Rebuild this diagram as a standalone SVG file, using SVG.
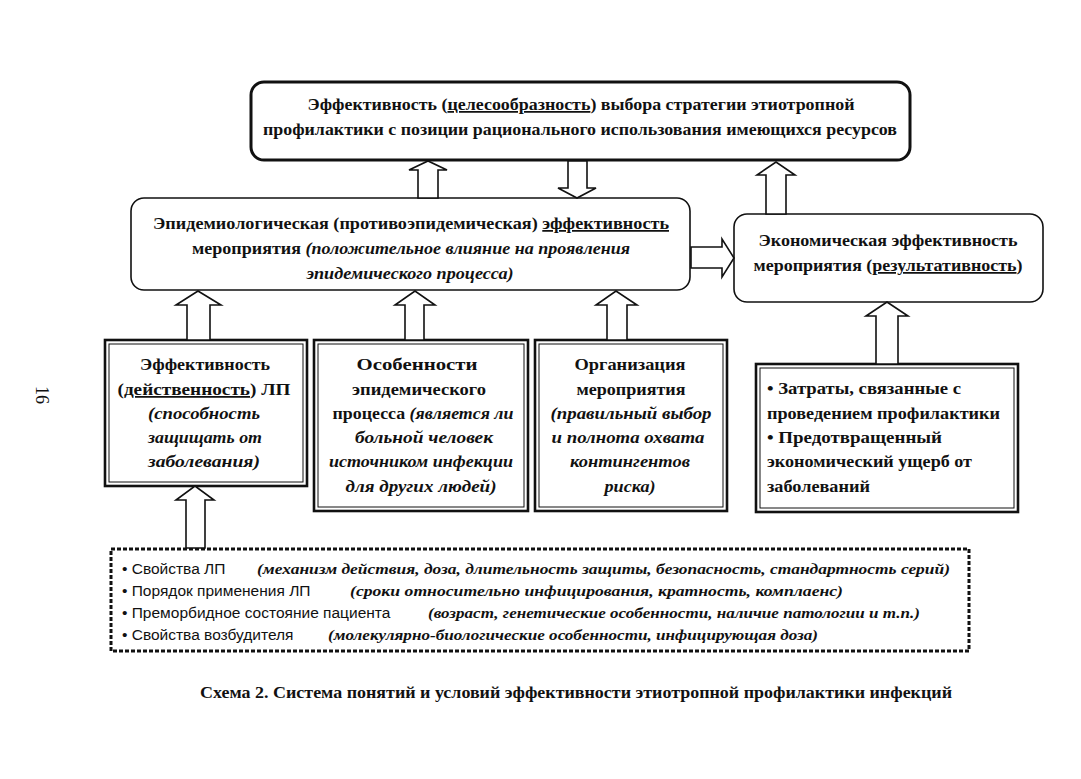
<svg xmlns="http://www.w3.org/2000/svg" width="1081" height="779" viewBox="0 0 1081 779">
<style>
.b{font-family:"Liberation Serif","Times New Roman",serif;font-weight:bold;font-size:17.5px;fill:#111}
.i{font-style:italic}
.u{text-decoration:underline}
.s{font-family:"Liberation Sans",Arial,sans-serif;font-size:15.5px;fill:#111}
.si{font-family:"Liberation Serif","Times New Roman",serif;font-weight:bold;font-style:italic;font-size:14.5px;fill:#111}
.arr{fill:#fff;stroke:#111;stroke-width:1.6;stroke-linejoin:miter}
.rb{fill:#fff;stroke:#111}
.dbo{fill:#fff;stroke:#111;stroke-width:2.6}
.dbi{fill:none;stroke:#111;stroke-width:1}
</style>
<rect width="1081" height="779" fill="#fff"/>
<text class="b" transform="translate(36,395) rotate(90)" text-anchor="middle" style="font-weight:normal;font-size:18px">16</text>

<g id="top">
<rect class="rb" x="251" y="82" width="659" height="78" rx="13" stroke-width="3"/>
<text class="b" x="581" y="110" text-anchor="middle" textLength="547" lengthAdjust="spacingAndGlyphs">Эффективность (<tspan class="u">целесообразность</tspan>) выбора стратегии этиотропной</text>
<text class="b" x="580" y="135" text-anchor="middle" textLength="634" lengthAdjust="spacingAndGlyphs">профилактики с позиции рационального использования имеющихся ресурсов</text>
</g>

<g id="epid">
<rect class="rb" x="131" y="198" width="559" height="92" rx="13" stroke-width="1.6"/>
<text class="b" x="411" y="229" text-anchor="middle" textLength="516" lengthAdjust="spacingAndGlyphs">Эпидемиологическая (противоэпидемическая) <tspan class="u">эффективность</tspan></text>
<text class="b" x="411" y="254" text-anchor="middle" textLength="438" lengthAdjust="spacingAndGlyphs">мероприятия <tspan class="i">(положительное влияние на проявления</tspan></text>
<text class="b i" x="410" y="279" text-anchor="middle" textLength="207" lengthAdjust="spacingAndGlyphs">эпидемического процесса)</text>
</g>

<g id="econ">
<rect class="rb" x="734" y="214" width="309" height="88" rx="13" stroke-width="1.6"/>
<text class="b" x="888" y="246" text-anchor="middle" textLength="259" lengthAdjust="spacingAndGlyphs">Экономическая эффективность</text>
<text class="b" x="888" y="271" text-anchor="middle" textLength="269" lengthAdjust="spacingAndGlyphs">мероприятия (<tspan class="u">результативность</tspan>)</text>
</g>

<g id="box1">
<rect class="dbo" x="105" y="340" width="202" height="146"/>
<rect class="dbi" x="109" y="344" width="194" height="138"/>
<g text-anchor="middle">
<text class="b" x="205" y="370" textLength="130" lengthAdjust="spacingAndGlyphs">Эффективность</text>
<text class="b" x="204" y="395" textLength="173" lengthAdjust="spacingAndGlyphs">(<tspan class="u">действенность</tspan>) ЛП</text>
<text class="b i" x="204" y="419" textLength="112" lengthAdjust="spacingAndGlyphs">(способность</text>
<text class="b i" x="205" y="443" textLength="114" lengthAdjust="spacingAndGlyphs">защищать от</text>
<text class="b i" x="204" y="467" textLength="112" lengthAdjust="spacingAndGlyphs">заболевания)</text>
</g>
</g>

<g id="box2">
<rect class="dbo" x="314" y="340" width="214" height="171"/>
<rect class="dbi" x="318" y="344" width="206" height="163"/>
<g text-anchor="middle">
<text class="b" x="417" y="370" textLength="121" lengthAdjust="spacingAndGlyphs">Особенности</text>
<text class="b" x="419" y="395" textLength="134" lengthAdjust="spacingAndGlyphs">эпидемического</text>
<text class="b" x="423" y="419" textLength="181" lengthAdjust="spacingAndGlyphs">процесса <tspan class="i">(является ли</tspan></text>
<text class="b i" x="424" y="443" textLength="138" lengthAdjust="spacingAndGlyphs">больной человек</text>
<text class="b i" x="421" y="467" textLength="184" lengthAdjust="spacingAndGlyphs">источником инфекции</text>
<text class="b i" x="421" y="492" textLength="151" lengthAdjust="spacingAndGlyphs">для других людей)</text>
</g>
</g>

<g id="box3">
<rect class="dbo" x="535" y="340" width="192" height="171"/>
<rect class="dbi" x="539" y="344" width="184" height="163"/>
<g text-anchor="middle">
<text class="b" x="630" y="370" textLength="111" lengthAdjust="spacingAndGlyphs">Организация</text>
<text class="b" x="631" y="395" textLength="109" lengthAdjust="spacingAndGlyphs">мероприятия</text>
<text class="b i" x="631" y="419" textLength="161" lengthAdjust="spacingAndGlyphs">(правильный выбор</text>
<text class="b i" x="628" y="443" textLength="153" lengthAdjust="spacingAndGlyphs">и полнота охвата</text>
<text class="b i" x="630" y="467" textLength="120" lengthAdjust="spacingAndGlyphs">контингентов</text>
<text class="b i" x="630" y="492" textLength="51" lengthAdjust="spacingAndGlyphs">риска)</text>
</g>
</g>

<g id="box4">
<rect class="dbo" x="756" y="364" width="262" height="148"/>
<rect class="dbi" x="760" y="368" width="254" height="140"/>
<text class="b" x="767" y="394" textLength="194" lengthAdjust="spacingAndGlyphs">• Затраты, связанные с</text>
<text class="b" x="767" y="419" textLength="233" lengthAdjust="spacingAndGlyphs">проведением профилактики</text>
<text class="b" x="767" y="443" textLength="175" lengthAdjust="spacingAndGlyphs">• Предотвращенный</text>
<text class="b" x="767" y="467" textLength="205" lengthAdjust="spacingAndGlyphs">экономический ущерб от</text>
<text class="b" x="767" y="492" textLength="103" lengthAdjust="spacingAndGlyphs">заболеваний</text>
</g>

<g id="factors">
<rect x="111" y="549" width="858" height="102" fill="#fff" stroke="#111" stroke-width="3" stroke-dasharray="4 2"/>
<text class="s" x="122" y="574">• Свойства ЛП</text>
<text class="si" x="257" y="574" textLength="693" lengthAdjust="spacingAndGlyphs">(механизм действия, доза,  длительность защиты,  безопасность, стандартность серий)</text>
<text class="s" x="122" y="596">• Порядок применения ЛП</text>
<text class="si" x="350" y="596" textLength="493" lengthAdjust="spacingAndGlyphs">(сроки относительно инфицирования, кратность, комплаенс)</text>
<text class="s" x="122" y="618">• Преморбидное состояние пациента</text>
<text class="si" x="428" y="618" textLength="492" lengthAdjust="spacingAndGlyphs">(возраст, генетические особенности, наличие патологии и т.п.)</text>
<text class="s" x="122" y="640">• Свойства возбудителя</text>
<text class="si" x="328" y="640" textLength="490" lengthAdjust="spacingAndGlyphs">(молекулярно-биологические особенности, инфицирующая доза)</text>
</g>

<g id="connectors">
<polygon class="arr" points="418,198 418,170 409,170 428,161 447,170 438,170 438,198"/>
<polygon class="arr" points="568,161 568,188 558,188 577,198 596,188 587,188 587,161"/>
<polygon class="arr" points="766,214 766,175 757,175 776,162 795,175 786,175 786,214"/>
<polygon class="arr" points="691,247 722,247 722,239 734,258 722,277 722,268 691,268"/>
<polygon class="arr" points="187,340 187,305 176,305 198,291 221,305 210,305 210,340"/>
<polygon class="arr" points="405,340 405,305 395,305 415,291 435,305 424,305 424,340"/>
<polygon class="arr" points="607,340 607,305 596,305 616,291 637,305 627,305 627,340"/>
<polygon class="arr" points="876,364 876,316 866,316 887,302 908,316 898,316 898,364"/>
<polygon class="arr" points="186,548 186,500 176,500 195,486 214,500 205,500 205,548"/>
</g>

<text class="b" x="576" y="698" text-anchor="middle" textLength="752" lengthAdjust="spacingAndGlyphs" style="font-size:16.5px">Схема 2. Система понятий и условий эффективности этиотропной профилактики инфекций</text>
</svg>
